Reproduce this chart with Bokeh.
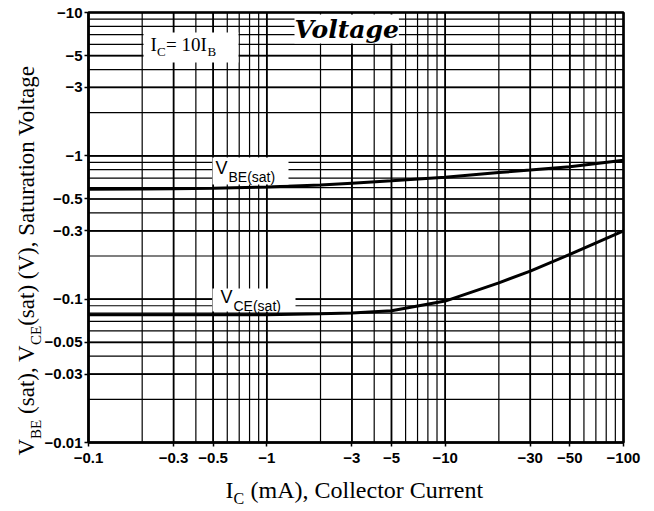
import math
from bokeh.plotting import figure
from bokeh.models import Range1d, FixedTicker, Label, BoxAnnotation
from bokeh.embed import file_html
from bokeh.resources import INLINE

# ---- data ----
ic_ma = [0.1, 0.2, 0.3, 0.5, 1, 2, 3, 5, 10, 20, 30, 50, 100]
vbe_sat = [0.585, 0.588, 0.59, 0.595, 0.605, 0.625, 0.645, 0.67, 0.71, 0.765, 0.795, 0.84, 0.93]
vce_sat = [0.078, 0.078, 0.078, 0.078, 0.078, 0.079, 0.080, 0.083, 0.097, 0.13, 0.157, 0.205, 0.30]

x_ticks = [0.1, 0.3, 0.5, 1, 3, 5, 10, 30, 50, 100]
x_tick_labels = ["−0.1", "−0.3", "−0.5", "−1", "−3", "−5", "−10", "−30", "−50", "−100"]
y_ticks = [0.01, 0.03, 0.05, 0.1, 0.3, 0.5, 1, 3, 5, 10]
y_tick_labels = ["−0.01", "−0.03", "−0.05", "−0.1", "−0.3", "−0.5", "−1", "−3", "−5", "−10"]

x_grid = [round(m * 10.0 ** e, 6) for e in range(-1, 2) for m in range(1, 10)] + [100]
y_grid = [round(m * 10.0 ** e, 6) for e in range(-2, 1) for m in range(1, 10)] + [10]

# ---- layout: chart box inside the canvas (page pixels) ----
W, H = 648, 508
CL, CR, CT, CB = 88, 623, 12, 442
X0, X1 = x_ticks[0], x_ticks[-1]
Y0, Y1 = y_ticks[0], y_ticks[-1]
DX = (CR - CL) / math.log10(X1 / X0)
DY = (CB - CT) / math.log10(Y1 / Y0)
MID = 0.34   # distance (in em) from the text middle to its baseline


def dx(px):
    return X0 * 10 ** ((px - CL) / DX)


def dy(py):
    return Y0 * 10 ** ((CB - py) / DY)


p = figure(width=W, height=H, x_axis_type="log", y_axis_type="log",
           x_range=Range1d(dx(0), dx(W)), y_range=Range1d(dy(H), dy(0)),
           output_backend="svg", toolbar_location=None, title=None, min_border=0)
p.background_fill_color = "white"
p.border_fill_color = "white"
p.outline_line_color = None
p.grid.visible = False

p.xaxis.ticker = FixedTicker(ticks=x_ticks, minor_ticks=[])
p.yaxis.ticker = FixedTicker(ticks=y_ticks, minor_ticks=[])
p.xaxis.major_label_overrides = dict(zip(x_ticks, x_tick_labels))
p.yaxis.major_label_overrides = dict(zip(y_ticks, y_tick_labels))
p.xaxis.fixed_location = Y0
p.yaxis.fixed_location = X0
p.xaxis.bounds = (X0, X1)
p.yaxis.bounds = (Y0, Y1)

for ax in (p.xaxis, p.yaxis):
    ax.axis_line_color = "black"
    ax.axis_line_width = 2
    ax.major_tick_line_color = "black"
    ax.major_tick_line_width = 1.5
    ax.major_tick_out = 4
    ax.major_tick_in = 0
    ax.minor_tick_out = 0
    ax.minor_tick_in = 0
    ax.major_label_text_font = "Liberation Sans"
    ax.major_label_text_font_size = "15px"
    ax.major_label_text_font_style = "bold"
    ax.major_label_text_color = "black"
p.xaxis.major_label_standoff = 6
p.yaxis.major_label_standoff = 2

# grid lines (minor + major) drawn on the chart's own log scales
p.segment(x0=x_grid, x1=x_grid, y0=[Y0] * len(x_grid), y1=[Y1] * len(x_grid),
          line_color="black", line_width=1.2)
p.segment(x0=[X0] * len(y_grid), x1=[X1] * len(y_grid), y0=y_grid, y1=y_grid,
          line_color="black", line_width=1.2)
p.segment(x0=x_ticks, x1=x_ticks, y0=[Y0] * len(x_ticks), y1=[Y1] * len(x_ticks),
          line_color="black", line_width=1.7)
p.segment(x0=[X0] * len(y_ticks), x1=[X1] * len(y_ticks), y0=y_ticks, y1=y_ticks,
          line_color="black", line_width=1.7)
p.quad(left=[X0], right=[X1], bottom=[Y0], top=[Y1], fill_color=None,
       line_color="black", line_width=2.5)

p.line(ic_ma, vbe_sat, line_width=3, color="black")
p.line(ic_ma, vce_sat, line_width=3, color="black")


def box(l, t, r, b):
    p.add_layout(BoxAnnotation(left=dx(l), right=dx(r), top=dy(t), bottom=dy(b),
                               fill_color="white", fill_alpha=1.0, line_color=None))


def txt(s, px, py, size, font="Liberation Serif", style="normal", angle=0.0, bg=None):
    # (px, py) is the left end of the text baseline in page pixels
    if angle:
        px = px - MID * size
    else:
        py = py - MID * size
    lab = Label(text=s, x=dx(px), y=dy(py),
                text_font=font, text_font_size=f"{size}px", text_font_style=style,
                text_color="black", text_align="left", text_baseline="middle",
                angle=angle)
    if bg:
        lab.background_fill_color = bg
        lab.background_fill_alpha = 1.0
    p.add_layout(lab)


# white boxes behind in-plot labels
box(143, 32, 238, 62)
box(212, 157, 288, 184)
box(212, 288, 295, 311)

# I_C = 10 I_B
txt("I", 150, 50, 19)
txt("C", 156.5, 55, 13)
txt("= 10I", 165.5, 50, 19)
txt("B", 207, 55, 13)

# title inside plot
txt("Voltage", 294, 37, 25, font="DejaVu Serif", style="bold italic", bg="white")

# curve labels
txt("V", 215, 174, 18, font="Liberation Sans")
txt("BE(sat)", 228, 181, 14, font="Liberation Sans")
txt("V", 220, 303, 18, font="Liberation Sans")
txt("CE(sat)", 233, 310, 14, font="Liberation Sans")

# x axis label
txt("I", 225, 498, 24)
txt("C", 233, 503, 16)
txt("(mA), Collector Current", 250, 498, 24)

# y axis label (rotated)
a = math.pi / 2
txt("V", 34, 455, 23, angle=a)
txt("BE", 41, 438.4, 15, angle=a)
txt("(sat), V", 34, 413.4, 23, angle=a)
txt("CE", 41, 344.5, 15, angle=a)
txt("(sat) (V), Saturation Voltage", 34, 325.3, 23, angle=a)

open("out.html", "w").write(file_html(p, INLINE))
